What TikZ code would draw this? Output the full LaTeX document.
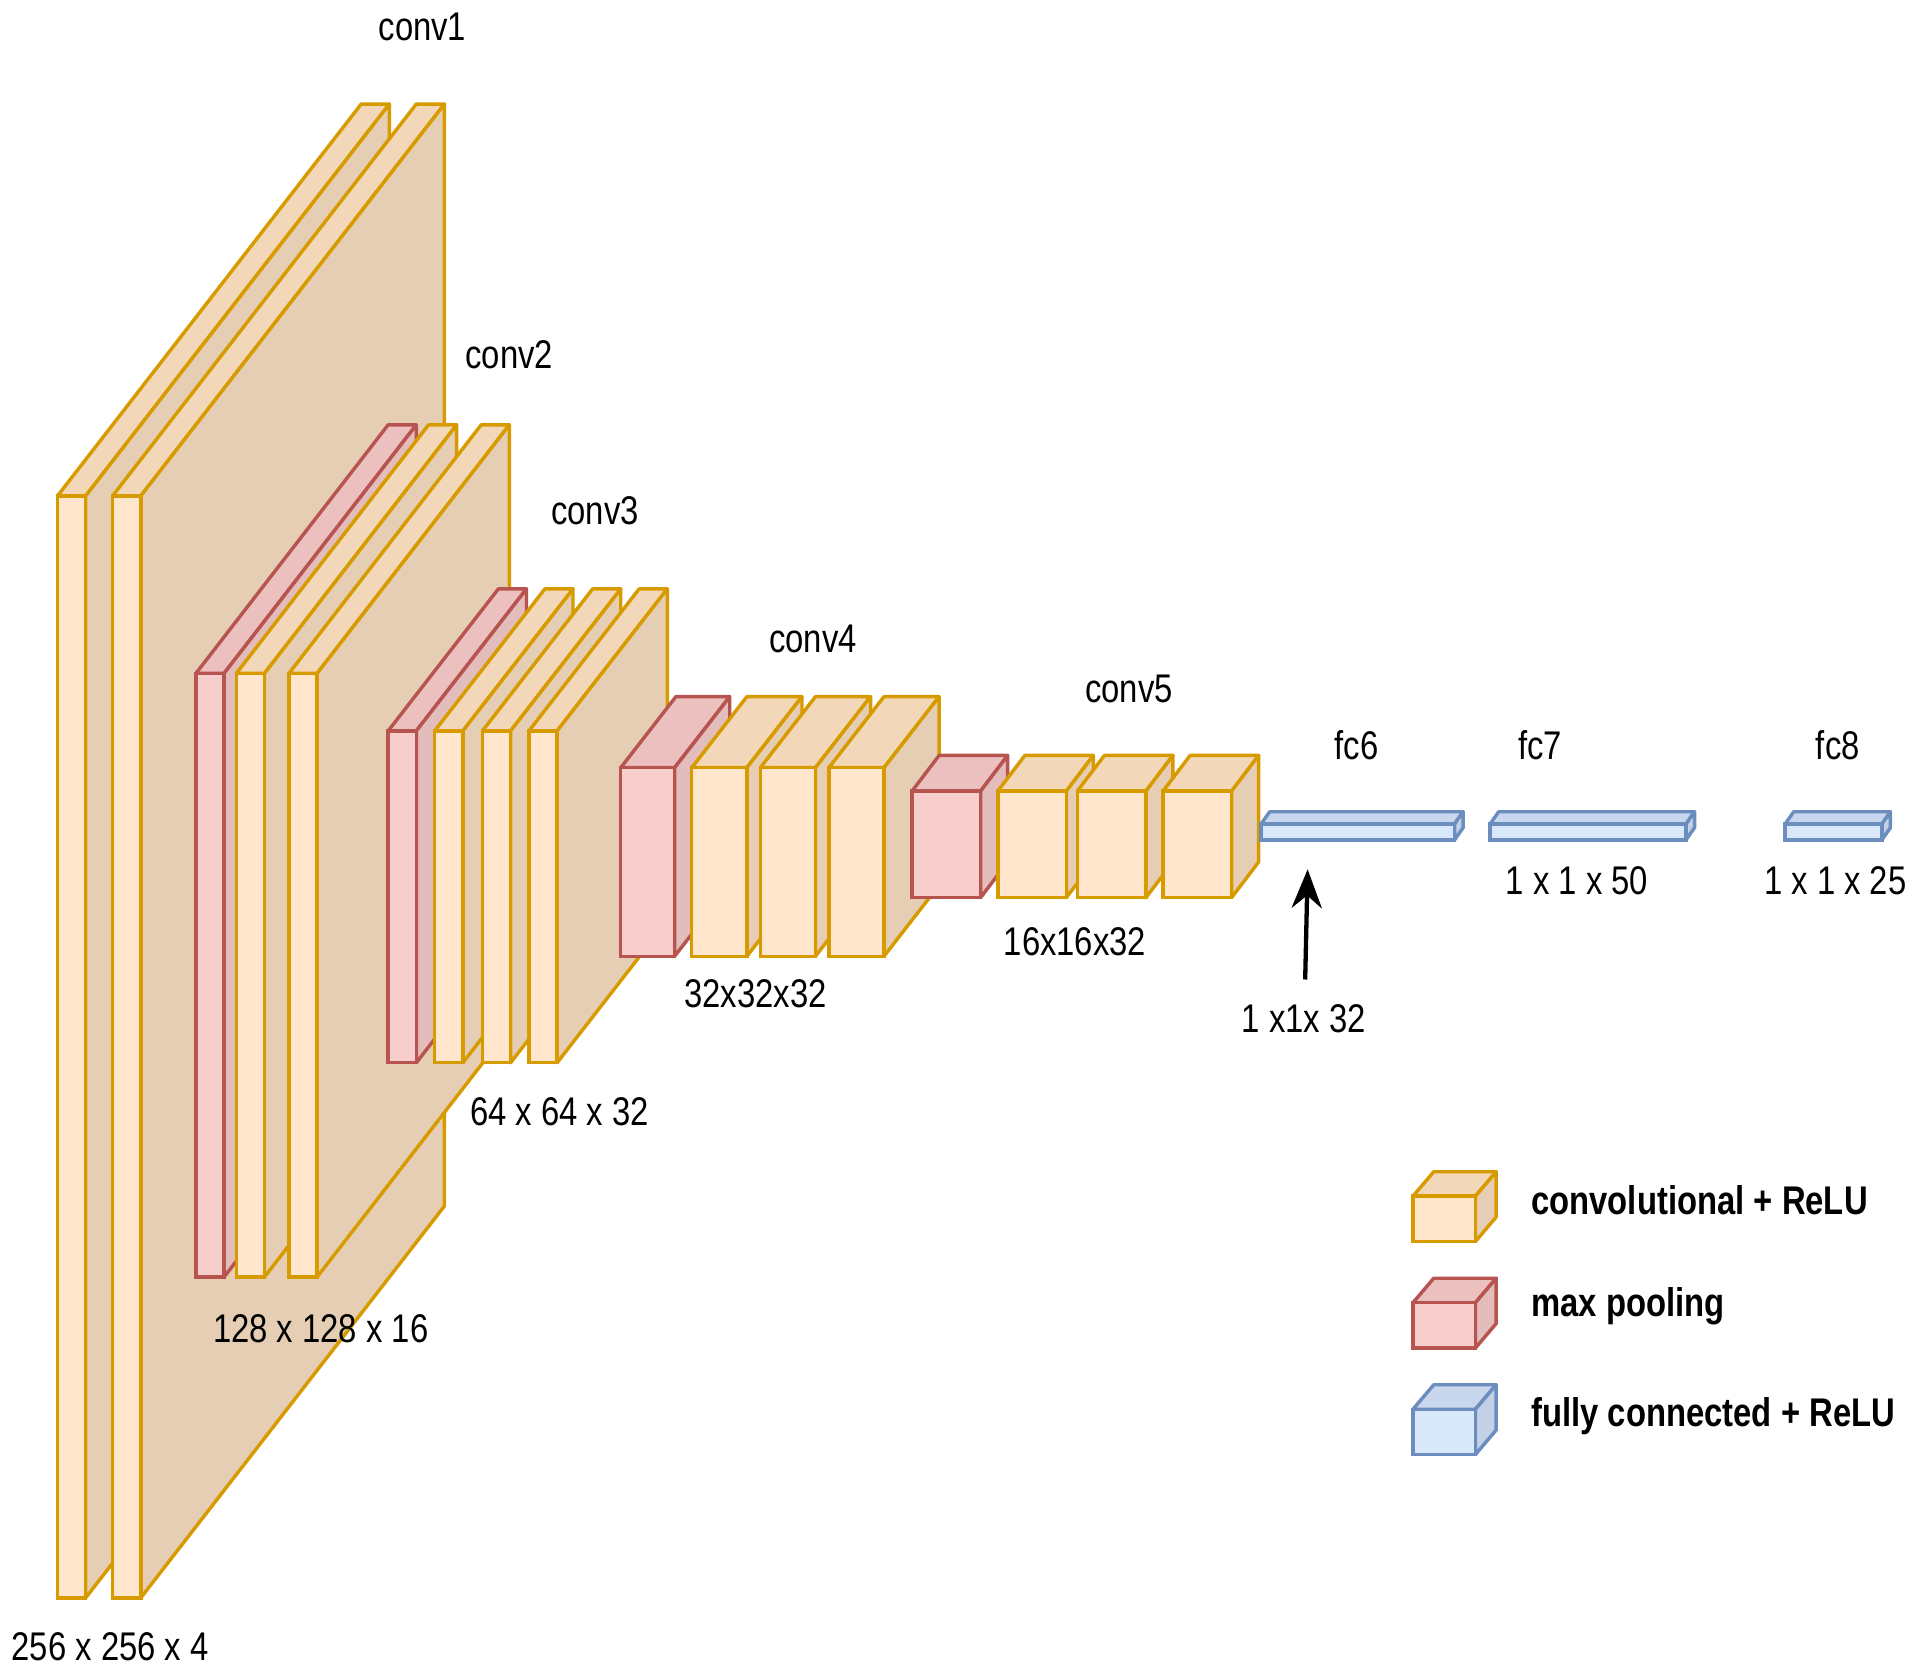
\documentclass[tikz,border=0pt]{standalone}
\usepackage{fontspec}
\setmainfont{Liberation Sans}
\usetikzlibrary{arrows.meta}
\definecolor{cF}{HTML}{FFE6CC}\definecolor{cT}{HTML}{F2D8B8}\definecolor{cS}{HTML}{E6CEB5}\definecolor{cD}{HTML}{D79B00}
\definecolor{pF}{HTML}{F8CECC}\definecolor{pT}{HTML}{EBC0BF}\definecolor{pS}{HTML}{E3BDBB}\definecolor{pD}{HTML}{B85450}
\definecolor{fF}{HTML}{DAE8FC}\definecolor{fT}{HTML}{C9D7EE}\definecolor{fS}{HTML}{C3D0E6}\definecolor{fD}{HTML}{6C8EBF}
\newcommand{\mycube}[7]{%
 \pgfmathsetmacro{\xa}{#1/100}\pgfmathsetmacro{\xb}{(#1+#3)/100}
 \pgfmathsetmacro{\ya}{-#2/100}\pgfmathsetmacro{\yb}{-(#2+#4)/100}
 \pgfmathsetmacro{\dx}{#5/100}\pgfmathsetmacro{\dy}{#6/100}
 \draw[draw=#7D,fill=#7T,line width=0.8pt,line join=round] (\xa,\ya)--++(\dx,\dy)--(\xb+\dx,\ya+\dy)--(\xb,\ya)--cycle;
 \draw[draw=#7D,fill=#7S,line width=0.8pt,line join=round] (\xb,\ya)--++(\dx,\dy)--(\xb+\dx,\yb+\dy)--(\xb,\yb)--cycle;
 \draw[draw=#7D,fill=#7F,line width=0.8pt] (\xa,\ya) rectangle (\xb,\yb);}
\newcommand{\nar}[1]{\scalebox{0.82}[1]{#1}}
\tikzset{lab/.style={font=\fontsize{9.3}{10}\selectfont,inner sep=0pt},
 leg/.style={font=\fontsize{9.3}{10}\selectfont\bfseries,anchor=west,inner sep=0pt}}
\begin{document}
\begin{tikzpicture}
\useasboundingbox (0,0) rectangle (15.6,-13.63);
% conv1
\mycube{47}{405}{23}{900}{248}{320}{c}
\mycube{92}{405}{23}{900}{248}{320}{c}
% conv2
\mycube{160}{550}{23}{493}{157}{203}{p}
\mycube{193}{550}{23}{493}{157}{203}{c}
\mycube{236}{550}{23}{493}{157}{203}{c}
% conv3
\mycube{317}{597}{23}{271}{90}{116}{p}
\mycube{355}{597}{23}{271}{90}{116}{c}
\mycube{394}{597}{23}{271}{90}{116}{c}
\mycube{432}{597}{23}{271}{90}{116}{c}
% conv4
\mycube{507}{627}{44}{154}{45}{58}{p}
\mycube{565}{627}{45}{154}{45}{58}{c}
\mycube{621}{627}{45}{154}{45}{58}{c}
\mycube{677}{627}{45}{154}{45}{58}{c}
% conv5
\mycube{745}{646}{56}{87}{22}{29}{p}
\mycube{815}{646}{56}{87}{22}{29}{c}
\mycube{880}{646}{56}{87}{22}{29}{c}
\mycube{950}{646}{56}{87}{22}{29}{c}
% fc
\mycube{1030}{673}{158}{13}{7}{10}{f}
\mycube{1217}{673}{160}{13}{7}{10}{f}
\mycube{1458}{673}{79}{13}{7}{10}{f}
% legend
\mycube{1154}{977}{51}{37}{17}{20}{c}
\mycube{1154}{1064}{51}{37}{17}{20}{p}
\mycube{1154}{1151}{51}{37}{17}{20}{f}
\node[leg] (l1) at (12.5,-9.80) {\nar{convolutional + ReLU}};
\node[leg] (l2) at (12.5,-10.67) {\nar{max pooling}};
\node[leg] (l3) at (12.5,-11.57) {\nar{fully connected + ReLU}};
% labels
\node[lab] (t1) at (3.45,-0.22) {\nar{conv1}};
\node[lab] (t2) at (4.16,-2.90) {\nar{conv2}};
\node[lab] (t3) at (4.86,-4.17) {\nar{conv3}};
\node[lab] (t4) at (6.64,-5.22) {\nar{conv4}};
\node[lab] (t5) at (9.22,-5.63) {\nar{conv5}};
\node[lab] (t6) at (11.08,-6.09) {\nar{fc6}};
\node[lab] (t7) at (12.58,-6.09) {\nar{fc7}};
\node[lab] (t8) at (15.01,-6.09) {\nar{fc8}};
\node[lab] (d1) at (0.90,-13.45) {\nar{256 x 256 x 4}};
\node[lab] (d2) at (2.62,-10.85) {\nar{128 x 128 x 16}};
\node[lab] (d3) at (4.57,-9.08) {\nar{64 x 64 x 32}};
\node[lab] (d4) at (6.17,-8.12) {\nar{32x32x32}};
\node[lab] (d5) at (8.78,-7.69) {\nar{16x16x32}};
\node[lab] (d6) at (10.65,-8.32) {\nar{1 x1x 32}};
\node[lab] (d7) at (12.88,-7.19) {\nar{1 x 1 x 50}};
\node[lab] (d8) at (14.99,-7.19) {\nar{1 x 1 x 25}};
\coordinate (a0) at (10.66,-8.00);
\coordinate (a1) at (10.68,-7.10);
\draw[-{Stealth[length=9pt,width=7pt]},line width=1pt] (a0)--(a1);
\end{tikzpicture}
\end{document}
